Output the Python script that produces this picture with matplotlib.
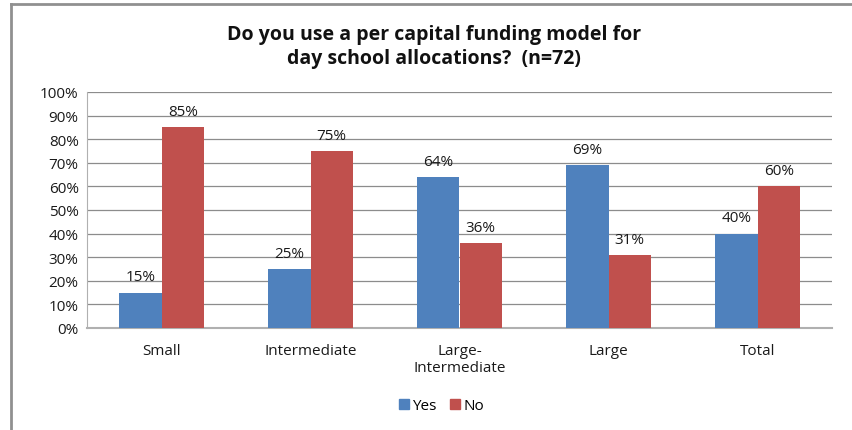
import matplotlib.pyplot as plt
import numpy as np
from matplotlib.lines import Line2D

categories = ["Small", "Intermediate", "Large-\nIntermediate", "Large", "Total"]
yes_vals = [15, 25, 64, 69, 40]
no_vals = [85, 75, 36, 31, 60]
y_ticks = [0, 10, 20, 30, 40, 50, 60, 70, 80, 90, 100]
title = "Do you use a per capital funding model for\nday school allocations?  (n=72)"

blue = "#4F81BD"
red = "#C0504D"
font = "Open Sans"
fs = 11

fig = plt.figure(figsize=(8.52, 4.31), dpi=100)
W, H = 852, 431
ax = fig.add_axes([87 / W, 1 - 329 / H, (832 - 87) / W, (329 - 93) / H])

x = np.arange(len(categories))
bw = 0.285
ax.bar(x - bw / 2, yes_vals, bw, color=blue, label="Yes", zorder=3)
ax.bar(x + bw / 2, no_vals, bw, color=red, label="No", zorder=3)

for xi, v in zip(x - bw / 2, yes_vals):
    ax.text(xi, v + 3.5, f"{v}%", ha="center", va="bottom", fontsize=fs, family=font, color="#1a1a1a")
for xi, v in zip(x + bw / 2, no_vals):
    ax.text(xi, v + 3.5, f"{v}%", ha="center", va="bottom", fontsize=fs, family=font, color="#1a1a1a")

ax.set_xlim(-0.5, len(categories) - 0.5)
ax.set_ylim(0, 100)
ax.set_yticks(y_ticks)
ax.set_yticklabels([f"{t}%" for t in y_ticks], family=font, fontsize=fs)
ax.set_xticks(x)
ax.set_xticklabels(categories, family=font, fontsize=fs, linespacing=1.2)
ax.tick_params(axis="both", length=0, pad=6, colors="#1a1a1a")
ax.tick_params(axis="x", pad=11)
ax.yaxis.grid(True, color="#8c8c8c", linewidth=0.9, zorder=0)
ax.set_axisbelow(True)
for side in ["top", "right"]:
    ax.spines[side].set_visible(False)
ax.spines["left"].set_color("#b0b0b0")
ax.spines["bottom"].set_color("#b0b0b0")
ax.spines["bottom"].set_linewidth(1.5)

fig.text(434 / W, 1 - 47 / H, title, ha="center", va="center", fontsize=14,
         fontweight="bold", family=font, linespacing=1.3, color="#111111")

handles = [Line2D([], [], marker="s", linestyle="none", color=blue, markersize=7),
           Line2D([], [], marker="s", linestyle="none", color=red, markersize=7)]
fig.legend(handles, ["Yes", "No"], loc="center", bbox_to_anchor=(440 / W, 1 - 407 / H),
           ncol=2, frameon=False, prop={"family": font, "size": fs},
           handletextpad=0.05, columnspacing=0.7, handlelength=1.0)

# outer chart frame (top and left edges)
fig.add_artist(Line2D([11 / W, 1], [1 - 5 / H, 1 - 5 / H], transform=fig.transFigure, color="#909090", linewidth=2))
fig.add_artist(Line2D([11 / W, 11 / W], [0, 1 - 5 / H], transform=fig.transFigure, color="#909090", linewidth=2))

fig.savefig("out.png", dpi=100)
